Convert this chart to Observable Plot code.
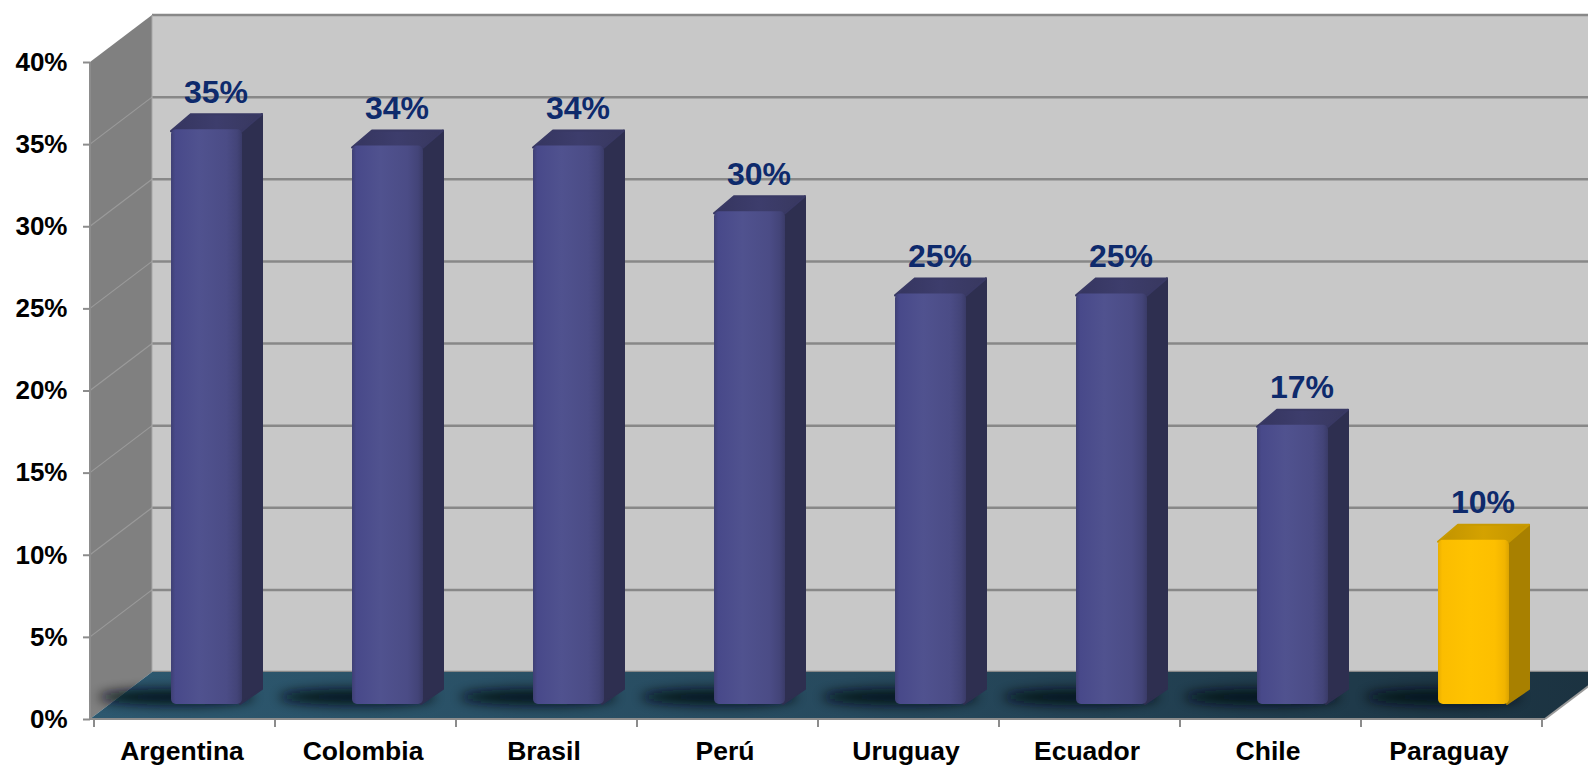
<!DOCTYPE html>
<html><head><meta charset="utf-8">
<script src="https://cdn.jsdelivr.net/npm/d3@7"></script>
<script src="https://cdn.jsdelivr.net/npm/@observablehq/plot@0.6"></script>
<style>html,body{margin:0;padding:0;background:#fff;overflow:hidden}</style>
</head><body><div id="chart"></div>
<script>
// ---- data ----
const countries = ["Argentina", "Colombia", "Brasil", "Perú", "Uruguay", "Ecuador", "Chile", "Paraguay"];
const shares = [0.35, 0.34, 0.34, 0.30, 0.25, 0.25, 0.17, 0.10];
const highlighted = ["Paraguay"];
const yTicks = [0, 0.05, 0.10, 0.15, 0.20, 0.25, 0.30, 0.35, 0.40];

const data = countries.map((country, i) => ({country, value: shares[i], highlight: highlighted.includes(country)}));

// ---- 3D styling constants ----
const DEPTH_X = 62, DEPTH_Y = -47;          // wall depth
const BAR_INSET = 77, BAR_W = 71;           // bar front face within band
const BAR_DX = 20, BAR_DY = -15;            // bar depth
const BAR_LIFT = -15;                       // bars sit back on the floor
const pct = d3.format(".0%");

function background(index, scales, values, dim) {
  const X = scales.x, Y = scales.y;
  const x0 = dim.marginLeft, x1 = dim.width - dim.marginRight;
  const y0 = Y(0), yt = Y(d3.max(yTicks));
  const g = d3.create("svg:g");
  const defs = g.append("defs");
  const fl = defs.append("linearGradient").attr("id", "floorGrad").attr("x1", 0).attr("x2", 1).attr("y1", 0).attr("y2", 0);
  [[0, "#2d586f"], [0.5, "#274a5e"], [1, "#1b3240"]].forEach(([o, c]) => fl.append("stop").attr("offset", o).attr("stop-color", c));
  // back wall
  g.append("rect").attr("x", x0 + DEPTH_X).attr("y", yt + DEPTH_Y)
    .attr("width", dim.width + 100).attr("height", y0 - yt).attr("fill", "#c8c8c8");
  for (const t of yTicks) {
    g.append("line").attr("x1", x0 + DEPTH_X).attr("x2", dim.width + 100)
      .attr("y1", Y(t) + DEPTH_Y).attr("y2", Y(t) + DEPTH_Y)
      .attr("stroke", "#888").attr("stroke-width", 2.5);
  }
  // left side wall
  g.append("path").attr("d", `M${x0},${yt}L${x0 + DEPTH_X},${yt + DEPTH_Y}L${x0 + DEPTH_X},${y0 + DEPTH_Y}L${x0},${y0}Z`)
    .attr("fill", "#808080");
  for (const t of yTicks.slice(1, -1)) {
    g.append("line").attr("x1", x0).attr("x2", x0 + DEPTH_X)
      .attr("y1", Y(t)).attr("y2", Y(t) + DEPTH_Y)
      .attr("stroke", "#9a9a9a").attr("stroke-width", 1.2);
  }
  g.append("line").attr("x1", x0 + DEPTH_X).attr("x2", x0 + DEPTH_X).attr("y1", yt + DEPTH_Y).attr("y2", y0 + DEPTH_Y)
    .attr("stroke", "#a8a8a8").attr("stroke-width", 1);
  // floor
  g.append("path").attr("d", `M${x0},${y0}L${x0 + DEPTH_X},${y0 + DEPTH_Y}L${x1 + DEPTH_X},${y0 + DEPTH_Y}L${x1},${y0}Z`)
    .attr("fill", "url(#floorGrad)");
  g.append("line").attr("x1", x1).attr("y1", y0).attr("x2", x1 + DEPTH_X).attr("y2", y0 + DEPTH_Y)
    .attr("stroke", "#9a9a9a").attr("stroke-width", 2);
  // axis lines
  g.append("line").attr("x1", x0).attr("x2", x0).attr("y1", yt).attr("y2", y0).attr("stroke", "#8c8c8c").attr("stroke-width", 2);
  g.append("line").attr("x1", x0).attr("x2", x1).attr("y1", y0).attr("y2", y0).attr("stroke", "#8c8c8c").attr("stroke-width", 2);
  // category boundary ticks
  const bw = X.bandwidth ? X.bandwidth() : (x1 - x0) / countries.length;
  const bounds = countries.map(c => X(c)).concat([X(countries[countries.length - 1]) + bw]);
  for (const b of bounds) {
    g.append("line").attr("x1", b).attr("x2", b).attr("y1", y0).attr("y2", y0 + 8)
      .attr("stroke", "#8c8c8c").attr("stroke-width", 2);
  }
  return g.node();
}

function bars3d(index, scales) {
  const X = scales.x, Y = scales.y;
  const g = d3.create("svg:g");
  const defs = g.append("defs");
  const grad = (id, stops, vertical) => {
    const lg = defs.append("linearGradient").attr("id", id)
      .attr("x1", 0).attr("y1", 0).attr("x2", vertical ? 0 : 1).attr("y2", vertical ? 1 : 0);
    stops.forEach(([o, c]) => lg.append("stop").attr("offset", o).attr("stop-color", c));
  };
  grad("frontBlue", [[0, "#3f4074"], [0.06, "#48498a"], [0.4, "#50528f"], [0.78, "#4b4c86"], [0.93, "#434478"], [1, "#3a3b68"]]);
  grad("frontGold", [[0, "#e9ae00"], [0.06, "#fbbd00"], [0.45, "#ffc300"], [0.8, "#fdbf00"], [0.94, "#f1b400"], [1, "#dba300"]]);
  grad("capBlue", [[0, "#35355f"], [0.5, "#3d3d6c"], [1, "#38385f"]]);
  grad("capGold", [[0, "#c09200"], [0.5, "#d4a200"], [1, "#c39400"]]);
  const blur = defs.append("filter").attr("id", "shadowBlur")
    .attr("x", "-50%").attr("y", "-300%").attr("width", "200%").attr("height", "700%");
  blur.append("feGaussianBlur").attr("stdDeviation", 6);
  for (const i of index) {
    const d = data[i];
    const xl = X(d.country) + BAR_INSET, xr = xl + BAR_W;
    const yb = Y(0) + BAR_LIFT, yt = Y(d.value) + BAR_LIFT;
    g.append("ellipse").attr("cx", xl + 5).attr("cy", yb - 7).attr("rx", 78).attr("ry", 8)
      .attr("fill", "#050d12").attr("opacity", 0.9).attr("filter", "url(#shadowBlur)");
    g.append("path")
      .attr("d", `M${xr - 2},${yt}L${xr + BAR_DX},${yt + BAR_DY}L${xr + BAR_DX},${yb + BAR_DY}L${xr - 2},${yb}Z`)
      .attr("fill", d.highlight ? "#a88000" : "#2e2f50")
      .attr("stroke", d.highlight ? "#a88000" : "#2e2f50").attr("stroke-width", 2).attr("stroke-linejoin", "round");
    g.append("path")
      .attr("d", `M${xl},${yt + 2}L${xl + BAR_DX},${yt + BAR_DY}L${xr + BAR_DX},${yt + BAR_DY}L${xr},${yt + 2}Z`)
      .attr("fill", d.highlight ? "url(#capGold)" : "url(#capBlue)")
      .attr("stroke", d.highlight ? "#c89a00" : "#393964").attr("stroke-width", 2).attr("stroke-linejoin", "round");
    g.append("rect").attr("x", xl).attr("y", yt).attr("width", BAR_W).attr("height", yb - yt).attr("rx", 5)
      .attr("fill", d.highlight ? "url(#frontGold)" : "url(#frontBlue)");
  }
  return g.node();
}

const chart = Plot.plot({
  width: 1588,
  height: 766,
  marginLeft: 90,
  marginRight: 43,
  marginTop: 62,
  marginBottom: 47,
  style: {fontFamily: "'Liberation Sans', Arial, sans-serif", background: "white"},
  x: {domain: countries, padding: 0},
  y: {domain: [0, 0.4]},
  marks: [
    Plot.ruleY(yTicks, {y: d => d, render: background}),
    Plot.barY(data, {x: "country", y: "value", render: bars3d}),
    Plot.text(data, {
      x: "country", y: "value", text: d => pct(d.value),
      dx: 31, dy: -42, lineAnchor: "bottom",
      fontSize: 32, fontWeight: "bold", fill: "#0e2a6c"
    }),
    Plot.axisY(yTicks, {
      tickFormat: pct, tickSize: 7, tickPadding: 16, stroke: "#8c8c8c", strokeWidth: 2,
      fill: "black", fontSize: 26, fontWeight: "bold", label: null
    }),
    Plot.axisX({
      tickSize: 0, tickPadding: 22, fill: "black", fontSize: 26.5, fontWeight: "bold", label: null, dx: -3
    })
  ]
});
document.getElementById("chart").appendChild(chart);
</script>
</body></html>
